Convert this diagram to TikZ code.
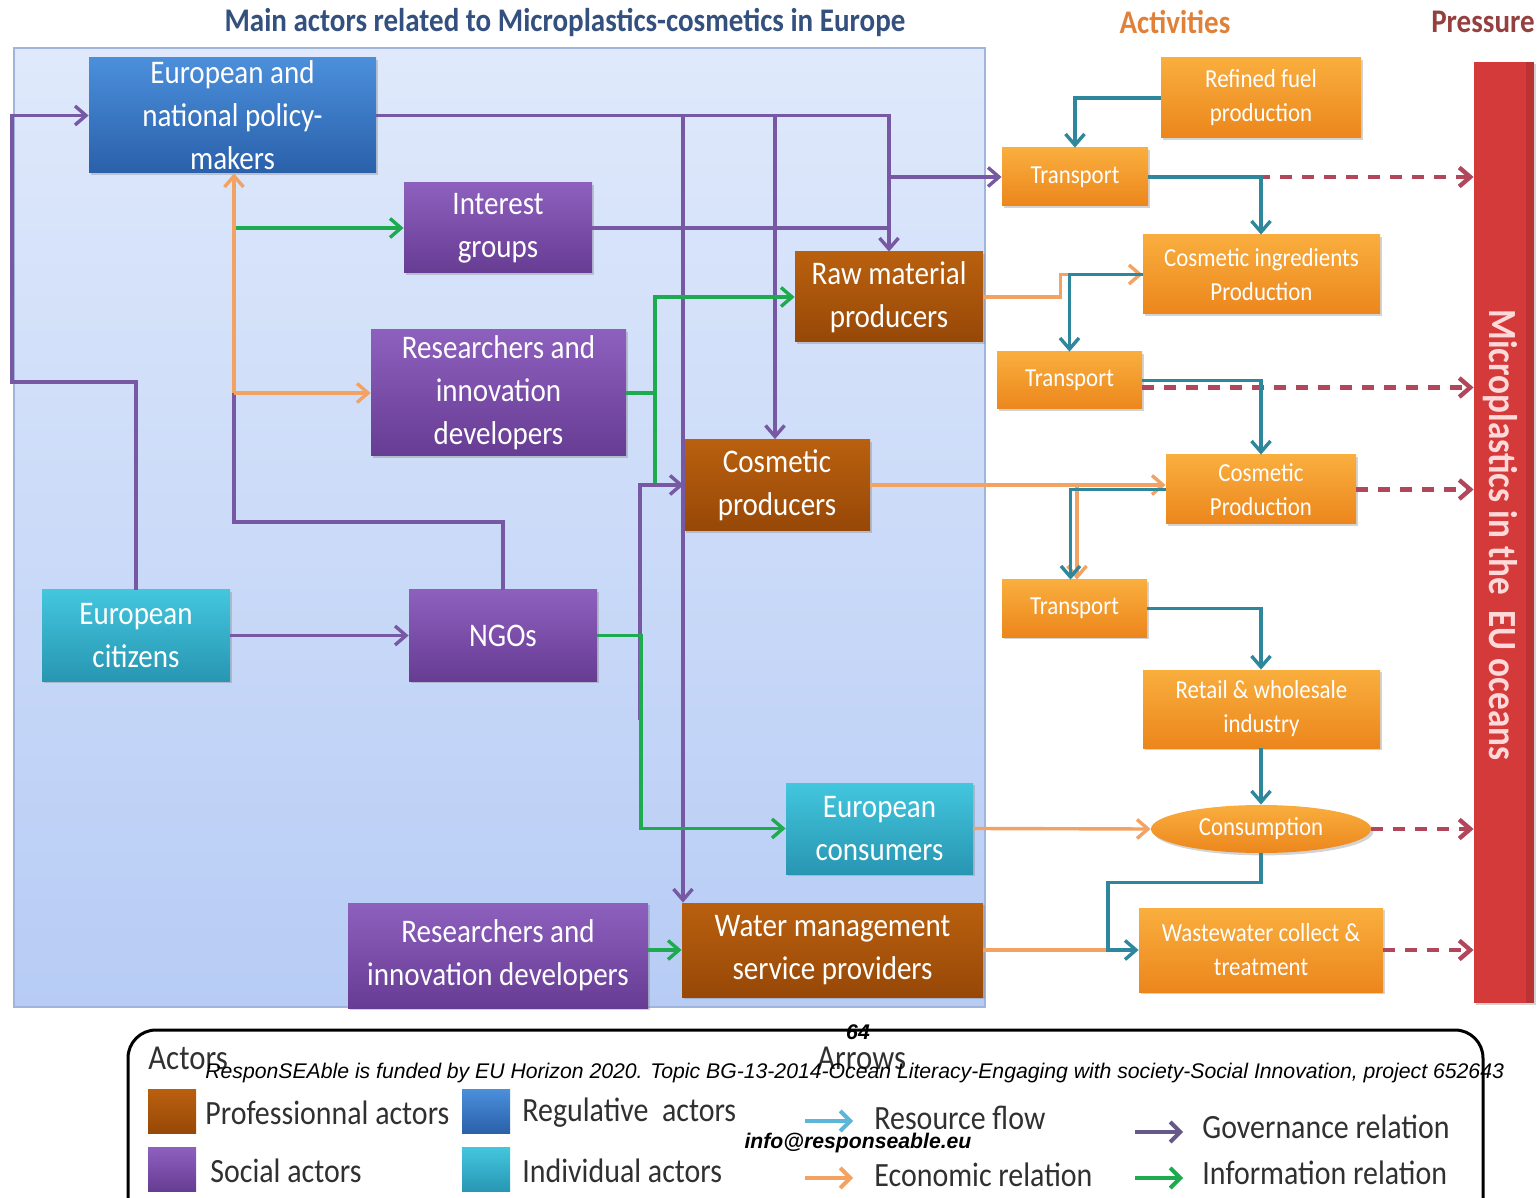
\documentclass[tikz,border=0pt]{standalone}
\usepackage{fontspec}
\setmainfont[FakeStretch=0.88]{Carlito}
\newfontfamily\arialf{Liberation Sans}
\usetikzlibrary{arrows.meta,shapes.geometric,shadows,calc}
\definecolor{panelTop}{HTML}{DFE9FB}
\definecolor{panelBot}{HTML}{B7CCF5}
\definecolor{panelBorder}{HTML}{9FB5DC}
\definecolor{blueT}{HTML}{4B8FDB}
\definecolor{blueB}{HTML}{2A60AA}
\definecolor{purT}{HTML}{8D60BE}
\definecolor{purB}{HTML}{673C93}
\definecolor{brnT}{HTML}{B9600F}
\definecolor{brnB}{HTML}{974807}
\definecolor{cyaT}{HTML}{43C6DE}
\definecolor{cyaB}{HTML}{2896B2}
\definecolor{orT}{HTML}{F9AE3E}
\definecolor{orB}{HTML}{EC861C}
\definecolor{redbar}{HTML}{D43A3A}
\definecolor{govc}{HTML}{7759A3}
\definecolor{infc}{HTML}{1EAA4E}
\definecolor{ecoc}{HTML}{F2A262}
\definecolor{resc}{HTML}{2E879C}
\definecolor{presc}{HTML}{B2475B}
\definecolor{titlec}{HTML}{34507F}
\definecolor{actc}{HTML}{E0813A}
\definecolor{pressc}{HTML}{94403F}
\definecolor{legres}{HTML}{5DB6D8}
\definecolor{leggov}{HTML}{675888}
\definecolor{legtext}{HTML}{303030}
\begin{document}
\begin{tikzpicture}[x=0.5pt,y=-0.5pt,
  >={Straight Barb[length=5.5pt,width=9.5pt]},
  box/.style={draw=none, align=center, inner sep=0pt, text=white,
    drop shadow={shadow xshift=1.2pt, shadow yshift=-1.2pt, opacity=0.35}},
  actor/.style={box, font=\fontsize{16.5}{21.5}\selectfont},
  act/.style={box, font=\fontsize{13}{17}\selectfont, top color=orT, bottom color=orB},
  regul/.style={actor, top color=blueT, bottom color=blueB},
  social/.style={actor, top color=purT, bottom color=purB},
  prof/.style={actor, top color=brnT, bottom color=brnB},
  indiv/.style={actor, top color=cyaT, bottom color=cyaB},
  gov/.style={draw=govc, line width=1.7pt},
  inf/.style={draw=infc, line width=1.7pt},
  eco/.style={draw=ecoc, line width=1.7pt},
  res/.style={draw=resc, line width=1.7pt},
  pres/.style={draw=presc, line width=2.2pt, dash pattern=on 6pt off 5pt},
  swatch/.style={draw=none, minimum width=24pt, minimum height=22pt, inner sep=0pt},
  legt/.style={anchor=west, inner sep=0pt, text=legtext, font=\fontsize{17}{20}\selectfont},
  foot/.style={inner sep=0pt, font=\arialf\itshape\fontsize{10.6}{12}\selectfont},
  head/.style={font=\bfseries\fontsize{16.5}{19}\selectfont}
]
\useasboundingbox (0,0) rectangle (1539,1198);

% titles
\node[head, text=titlec] (title) at (565,22) {Main actors related to Microplastics-cosmetics in Europe};
\node[head, text=actc] (tact) at (1175,22) {Activities};
\node[head, text=pressc] (tpre) at (1483,22) {Pressure};

% panel
\shade[top color=panelTop, bottom color=panelBot, draw=panelBorder, line width=0.6pt] (14,48) rectangle (985,1007);

% actor nodes
\node[regul, minimum width=143.5pt, minimum height=57.5pt] (pm) at (232.5,115.5) {European and\\national policy-\\makers};
\node[social, minimum width=94pt, minimum height=45pt] (ig) at (498,228) {Interest\\groups};
\node[social, minimum width=127.5pt, minimum height=63pt] (rid1) at (498.5,393) {Researchers and\\innovation\\developers};
\node[prof, minimum width=94pt, minimum height=45pt] (raw) at (889,297) {Raw material\\producers};
\node[prof, minimum width=93pt, minimum height=45.5pt] (cosp) at (777,485) {Cosmetic\\producers};
\node[indiv, minimum width=94pt, minimum height=45.5pt] (cit) at (136,635.5) {European\\citizens};
\node[social, minimum width=94pt, minimum height=45.5pt] (ngo) at (503,635.5) {NGOs};
\node[indiv, minimum width=93.5pt, minimum height=45.5pt] (cons) at (879.5,828.5) {European\\consumers};
\node[social, minimum width=150pt, minimum height=52.5pt] (rid2) at (498,955.5) {Researchers and\\innovation developers};
\node[prof, minimum width=150.5pt, minimum height=47pt] (wm) at (832.5,950) {Water management\\service providers};

% activity nodes
\node[act, minimum width=100pt, minimum height=40pt] (rf) at (1261,98) {Refined fuel\\production};
\node[act, minimum width=73pt, minimum height=29pt] (t1) at (1075,177) {Transport};
\node[act, minimum width=118.5pt, minimum height=39.5pt] (cip) at (1261.5,274.5) {Cosmetic ingredients\\Production};
\node[act, minimum width=72.5pt, minimum height=28.5pt] (t2) at (1069.5,380.5) {Transport};
\node[act, minimum width=95pt, minimum height=34.5pt] (cp) at (1261,489.5) {Cosmetic\\Production};
\node[act, minimum width=72.5pt, minimum height=28.5pt] (t3) at (1074.5,608.5) {Transport};
\node[act, minimum width=118.5pt, minimum height=39pt] (rw) at (1261.5,709) {Retail \& wholesale\\industry};
\node[act, ellipse, minimum width=110pt, minimum height=24pt] (consump) at (1261,829) {Consumption};
\node[act, minimum width=122pt, minimum height=42pt] (ww) at (1261,950) {Wastewater collect \&\\treatment};

% pressure bar
\node[draw=none, fill=redbar, minimum width=30pt, minimum height=470.5pt, inner sep=0pt,
  drop shadow={shadow xshift=1.2pt, shadow yshift=-1.2pt, opacity=0.35}] (bar) at (1504,532.5) {};
\fill[black, opacity=0.12] ($(bar.north east)+(-8,0)$) rectangle (bar.south east);
\node[rotate=-90, text=white!85!red, font=\bfseries\fontsize{20}{22}\selectfont] (bartext) at (1500,535) {Microplastics in the\ \ EU oceans};

% junction coordinates
\coordinate (j1) at (683,115.5);
\coordinate (j2) at (775,115.5);
\coordinate (j3) at (889,177);
\coordinate (j4) at (234,393);
\coordinate (j5) at (234,228);
\coordinate (j6) at (640,485);
\coordinate (j7) at (655,393);
\coordinate (j8) at (641,635.5);
\coordinate (j9) at (1077,485);
\coordinate (j10) at (1108,950);
\coordinate (j11) at (640,720);
\coordinate (col) at (1261,0);

% pressure (dashed)
\draw[pres,->] (t1.east) -- (t1.east -| bar.west);
\draw[pres,->] ($(t2.east)+(0,7)$) -- ($(t2.east -| bar.west)+(0,7)$);
\draw[pres,->] (cp.east) -- (cp.east -| bar.west);
\draw[pres,->] (consump.east) -- (consump.east -| bar.west);
\draw[pres,->] (ww.east) -- (ww.east -| bar.west);

% governance
\draw[gov,->] (cit.north) |- (12,382) |- (pm.west);
\draw[gov,->] (pm.east) -| (raw.north);
\draw[gov,->] (j1) -- (j1 |- wm.north);
\draw[gov,->] (j2) -- (j2 |- cosp.north);
\draw[gov,->] (j3) -- (t1.west);
\draw[gov] (ig.east) -- (ig.east -| raw.north);
\draw[gov] (ngo.north) |- (234,522) -- (j4);
\draw[gov,->] (cit.east) -- (ngo.west);

% information
\draw[inf] (rid1.east) -- (j7);
\draw[inf,->] (j7) |- (raw.west);
\draw[inf] (j7) -- (j7 |- cosp.west);
\draw[gov,->] (j11) -- (j6) -- (cosp.west);
\draw[inf,->] (ngo.east) -- (j8) |- (cons.west);
\draw[inf,->] (rid2.east |- wm.west) -- (wm.west);
\draw[inf,->] (j5) -- (ig.west);

% economic
\draw[eco,->] (j4) -- (j4 |- pm.south);
\draw[eco,->] (j4) -- (rid1.west);
\draw[eco,->] (raw.east) -- ++(77,0) |- (cip.west);
\draw[eco,->] (cosp.east) -- (cosp.east -| cp.west);
\draw[eco,->] (j9) -- (j9 |- t3.north);
\draw[eco,->] (cons.east) -- (consump.west);
\draw[eco] (wm.east) -- (j10);

% resource flow
\draw[res,->] (rf.west) -| (t1.north);
\draw[res,->] (t1.east) -| (col |- cip.north);
\draw[res,->] (cip.west) -| (t2.north);
\draw[res,->] (t2.east) -| (col |- cp.north);
\draw[res,->] (cp.west) -| ($(t3.north)+(-4,0)$);
\draw[res,->] (t3.east) -| (col |- rw.north);
\draw[res,->] (col |- rw.south) -- (col |- consump.north);
\draw[res,->] (consump.south) -- ++(0,29) -| (j10) -- (ww.west);

% legend
\draw[black, line width=1.5pt, rounded corners=14pt] (128,1205) -- (128,1030) -- (1483,1030) -- (1483,1205);
\node[anchor=west, inner sep=0pt, text=legtext, font=\fontsize{17.5}{20}\selectfont] (lact) at (148,1058) {Actors};
\node[anchor=west, inner sep=0pt, text=legtext, font=\fontsize{17.5}{20}\selectfont] (larr) at (817,1058) {Arrows};
\node[swatch, top color=brnT, bottom color=brnB] (s1) at (172,1111.5) {};
\node[swatch, top color=blueT, bottom color=blueB] (s2) at (486,1111.5) {};
\node[swatch, top color=purT, bottom color=purB] (s3) at (172,1169.5) {};
\node[swatch, top color=cyaT, bottom color=cyaB] (s4) at (486,1169.5) {};
\node[legt] (l1) at (205,1113) {Professionnal actors};
\node[legt] (l2) at (522,1113) {Regulative\ \ actors};
\node[legt] (l3) at (210,1171) {Social actors};
\node[legt] (l4) at (522,1171) {Individual actors};
\coordinate (a1s) at (805,1121); \coordinate (a1e) at (853,1121);
\coordinate (a2s) at (805,1178); \coordinate (a2e) at (853,1178);
\coordinate (a3s) at (1135,1132); \coordinate (a3e) at (1183,1132);
\coordinate (a4s) at (1135,1178); \coordinate (a4e) at (1183,1178);
\draw[draw=legres, line width=2pt, -{Straight Barb[length=5pt,width=10pt]}] (a1s) -- (a1e);
\draw[draw=ecoc, line width=2pt, -{Straight Barb[length=5pt,width=10pt]}] (a2s) -- (a2e);
\draw[draw=leggov, line width=2pt, -{Straight Barb[length=5pt,width=10pt]}] (a3s) -- (a3e);
\draw[draw=infc, line width=2pt, -{Straight Barb[length=5pt,width=10pt]}] (a4s) -- (a4e);
\node[legt] (l5) at (874,1118) {Resource flow};
\node[legt] (l6) at (874,1175) {Economic relation};
\node[legt] (l7) at (1202,1127) {Governance relation};
\node[legt] (l8) at (1202,1173) {Information relation};

% footer overlay
\node[foot, font=\arialf\bfseries\itshape\fontsize{10.6}{12}\selectfont] (pg) at (858,1032) {64};
\node[foot, anchor=west] (fund) at (205,1073) {ResponSEAble is funded by EU Horizon 2020. Topic BG-13-2014-Ocean Literacy-Engaging with society-Social Innovation, project 652643};
\node[foot, font=\arialf\bfseries\itshape\fontsize{10.6}{12}\selectfont] (mail) at (858,1143) {info@responseable.eu};
\end{tikzpicture}
\end{document}
